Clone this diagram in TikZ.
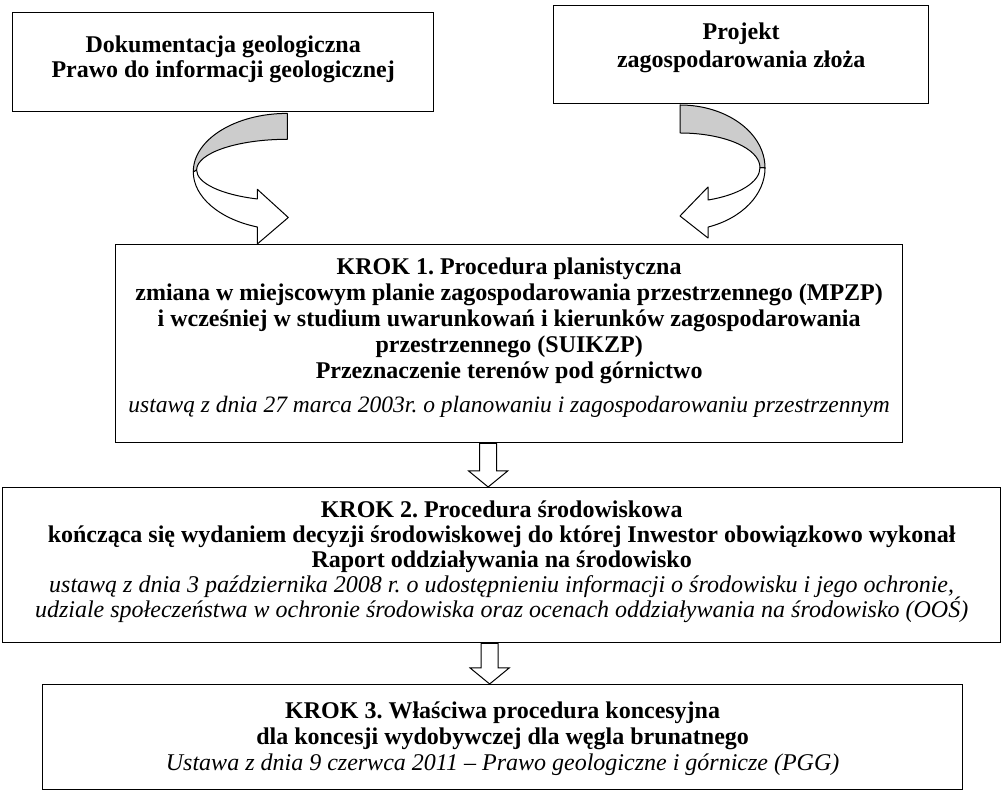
\documentclass[tikz,border=0pt]{standalone}
\usepackage{fontspec}
\setmainfont{Liberation Serif}
\usetikzlibrary{calc}
\frenchspacing
\newcommand{\lawtext}[1]{{\mdseries\itshape #1}}
\begin{document}
\begin{tikzpicture}[x=1pt,y=1pt,
  frame/.style={draw, line width=1.3pt, inner sep=0pt, anchor=north west},
  label/.style={align=center, inner sep=0pt, anchor=north,
    font=\fontsize{24}{26}\selectfont\bfseries},
  ribbon/.style={draw, line width=1pt, line join=round},
  blockarrow/.style={draw, line width=1pt, fill=white, line join=miter},
  ribbonshade/.style={ribbon, fill=gray!40},
]
\useasboundingbox (0,0) rectangle (1004,792);

% boxes
\node[frame, minimum width=421pt, minimum height=99pt] (doc) at (12,780) {};
\node[frame, minimum width=375pt, minimum height=98pt] (proj) at (553,787) {};
\node[frame, minimum width=787pt, minimum height=198pt] (k1) at (115,548) {};
\node[frame, minimum width=998pt, minimum height=155pt] (k2) at (2,305) {};
\node[frame, minimum width=920pt, minimum height=105pt] (k3) at (42,108) {};

% texts
\node[label] (doctxt) at ($(doc.north)+(0,-24)$)
  {Dokumentacja geologiczna\\[-1pt]Prawo do informacji geologicznej};
\node[label] (projtxt) at ($(proj.north)+(0,-18)$)
  {Projekt\\[2pt]zagospodarowania złoża};
\node[label] (k1txt) at ($(k1.north)+(0,-13.5)$)
  {KROK 1. Procedura planistyczna\\
   zmiana w miejscowym planie zagospodarowania przestrzennego (MPZP)\\
   i wcześniej w studium uwarunkowań i kierunków zagospodarowania\\
   przestrzennego (SUIKZP)\\
   Przeznaczenie terenów pod górnictwo\\[8pt]
   {\fontsize{23.5}{26}\selectfont\lawtext{ustawą z dnia 27 marca 2003r. o planowaniu i zagospodarowaniu przestrzennym}}};
\node[label] (k2txt) at ($(k2.north)+(0,-14)$)
  {KROK 2. Procedura środowiskowa\\[-1pt]
   kończąca się wydaniem decyzji środowiskowej do której Inwestor obowiązkowo wykonał\\[-1pt]
   Raport oddziaływania na środowisko\\[-1pt]
   \lawtext{ustawą z dnia 3 października 2008 r. o udostępnieniu informacji o środowisku i jego ochronie,}\\[-1pt]
   \lawtext{udziale społeczeństwa w ochronie środowiska oraz ocenach oddziaływania na środowisko (OOŚ)}};
\node[label] (k3txt) at ($(k3.north)+(0,-18)$)
  {KROK 3. Właściwa procedura koncesyjna\\
   dla koncesji wydobywczej dla węgla brunatnego\\
   \lawtext{Ustawa z dnia 9 czerwca 2011 – Prawo geologiczne i górnicze (PGG)}};

% curved arrow from the geological documentation down to step 1
\draw[ribbon, fill=white] (196.6,622)
  arc[start angle=180, end angle=250.7, x radius=90.7, y radius=30.7]
  -- (257.3,602.7) -- (288.3,574.5) -- (257.3,548) -- (257.3,565)
  arc[start angle=251.4, end angle=180, x radius=94, y radius=58.3] -- cycle;
\draw[ribbonshade] (287.3,678.6)
  arc[start angle=90, end angle=180, x radius=94, y radius=58.3]
  -- (196.6,622)
  arc[start angle=180, end angle=90, x radius=90.7, y radius=30.7] -- cycle;

% curved arrow from the deposit project down to step 1
\draw[ribbon, fill=white] (760,624.4)
  arc[start angle=0, end angle=-69.5, x radius=80, y radius=34.6]
  -- (708,605) -- (680,576) -- (708,554) -- (708,564.9)
  arc[start angle=-70.8, end angle=0, x radius=85, y radius=62.8] -- cycle;
\draw[ribbonshade] (680,687)
  arc[start angle=90, end angle=0, x radius=85, y radius=62.8]
  -- (760,624.4)
  arc[start angle=0, end angle=90, x radius=80, y radius=34.6] -- cycle;

% block arrows between the steps
\path (k1.south) ++(-21,0) coordinate (a1top);
\coordinate (a1tip) at (a1top |- k2.north);
\draw[blockarrow] ($(a1top)+(-8.5,0)$) -- ($(a1tip)+(-8.5,16)$)
  -- ($(a1tip)+(-19.5,16)$) -- (a1tip) -- ($(a1tip)+(19.5,16)$)
  -- ($(a1tip)+(8.5,16)$) -- ($(a1top)+(8.5,0)$) -- cycle;

\path (k2.south) ++(-12,0) coordinate (a2top);
\coordinate (a2tip) at (a2top |- k3.north);
\draw[blockarrow] ($(a2top)+(-8.5,0)$) -- ($(a2tip)+(-8.5,16)$)
  -- ($(a2tip)+(-19.5,16)$) -- (a2tip) -- ($(a2tip)+(19.5,16)$)
  -- ($(a2tip)+(8.5,16)$) -- ($(a2top)+(8.5,0)$) -- cycle;
\end{tikzpicture}
\end{document}
